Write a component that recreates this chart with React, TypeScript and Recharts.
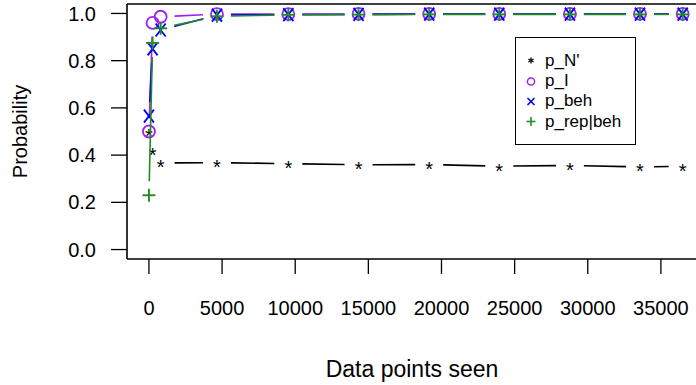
import { LineChart, Line, XAxis, YAxis, ReferenceLine, Legend } from "recharts";

// values
const steps = [0, 250, 800, 4650, 9530, 14330, 19160, 23950, 28780, 33570, 36490];
const pN = [0.5, 0.42, 0.367, 0.368, 0.364, 0.359, 0.36, 0.353, 0.356, 0.35, 0.353];
const pI = [0.5, 0.96, 0.986, 0.997, 0.997, 0.998, 0.998, 0.998, 0.998, 0.998, 0.998];
const pBeh = [0.565, 0.85, 0.93, 0.993, 0.995, 0.996, 0.997, 0.997, 0.997, 0.997, 0.997];
const pRep = [0.23, 0.875, 0.937, 0.988, 0.994, 0.995, 0.996, 0.996, 0.996, 0.996, 0.996];

const xTicks = [0, 5000, 10000, 15000, 20000, 25000, 30000, 35000];
const yTicks = [0, 0.2, 0.4, 0.6, 0.8, 1.0];

const FONT = "'Liberation Sans', Arial, Helvetica, sans-serif";
const GAP = 14;

const series = [
  { key: "pN", name: "p_N'", color: "#000000", kind: "star" },
  { key: "pI", name: "p_I", color: "#A020F0", kind: "circle" },
  { key: "pBeh", name: "p_beh", color: "#0000FF", kind: "cross" },
  { key: "pRep", name: "p_rep|beh", color: "#228B22", kind: "plus" },
];

const rows = steps.map((x, i) => ({ x, pN: pN[i], pI: pI[i], pBeh: pBeh[i], pRep: pRep[i] }));

function Marker({ kind, cx, cy, color }: { kind: string; cx: number; cy: number; color: string }) {
  if (kind === "star") {
    return (
      <text x={cx} y={cy + 11.5} textAnchor="middle" fontSize={20} fontFamily={FONT} fill={color}>
        *
      </text>
    );
  }
  if (kind === "circle") {
    return <circle cx={cx} cy={cy} r={6} fill="none" stroke={color} strokeWidth={1.8} />;
  }
  if (kind === "cross") {
    return (
      <g stroke={color} strokeWidth={1.8}>
        <line x1={cx - 5} y1={cy - 6.5} x2={cx + 5} y2={cy + 6.5} />
        <line x1={cx - 5} y1={cy + 6.5} x2={cx + 5} y2={cy - 6.5} />
      </g>
    );
  }
  return (
    <g stroke={color} strokeWidth={1.9}>
      <line x1={cx - 6.5} y1={cy} x2={cx + 6.5} y2={cy} />
      <line x1={cx} y1={cy - 6.5} x2={cx} y2={cy + 6.5} />
    </g>
  );
}

// small legend glyphs, like R's pch characters
function LegendGlyph({ kind, color }: { kind: string; color: string }) {
  let body;
  if (kind === "star") {
    body = (
      <g stroke={color} strokeWidth={1.3}>
        <line x1={7} y1={6.5} x2={7} y2={12.5} />
        <line x1={4.4} y1={8} x2={9.6} y2={11} />
        <line x1={4.4} y1={11} x2={9.6} y2={8} />
      </g>
    );
  } else if (kind === "circle") {
    body = <circle cx={7} cy={9.5} r={3.6} fill="none" stroke={color} strokeWidth={1.5} />;
  } else if (kind === "cross") {
    body = (
      <g stroke={color} strokeWidth={1.6}>
        <line x1={3.5} y1={6} x2={10.5} y2={13} />
        <line x1={3.5} y1={13} x2={10.5} y2={6} />
      </g>
    );
  } else {
    body = (
      <g stroke={color} strokeWidth={1.6}>
        <line x1={2.5} y1={9.5} x2={11.5} y2={9.5} />
        <line x1={7} y1={5} x2={7} y2={14} />
      </g>
    );
  }
  return (
    <svg width={14} height={19} style={{ display: "block", marginLeft: 8, marginRight: 7 }}>
      {body}
    </svg>
  );
}

// R type="b": points joined by segments that stop short of each point
const trail: Record<string, { x: number; y: number } | null> = {};

function gappedDot(key: string, color: string, kind: string) {
  return (props: any) => {
    const { cx, cy, index } = props;
    if (cx == null || cy == null) return <g key={`${key}-${index}`} />;
    if (index === 0) trail[key] = null;
    const prev = trail[key];
    trail[key] = { x: cx, y: cy };
    let seg = null;
    if (prev) {
      const dx = cx - prev.x;
      const dy = cy - prev.y;
      const d = Math.hypot(dx, dy);
      if (d > 2 * GAP) {
        const ux = dx / d;
        const uy = dy / d;
        seg = (
          <line
            x1={prev.x + ux * GAP}
            y1={prev.y + uy * GAP}
            x2={cx - ux * GAP}
            y2={cy - uy * GAP}
            stroke={color}
            strokeWidth={1.6}
          />
        );
      }
    }
    return (
      <g key={`${key}-${index}`}>
        {seg}
        <Marker kind={kind} cx={cx} cy={cy} color={color} />
      </g>
    );
  };
}

function LegendBox() {
  return (
    <div
      style={{
        border: "1.5px solid #000",
        width: 121,
        height: 108,
        boxSizing: "border-box",
        paddingTop: 12.8,
        fontSize: 17,
        fontFamily: FONT,
        background: "#fff",
      }}
    >
      {series.map((s) => (
        <div key={s.key} style={{ display: "flex", alignItems: "center", height: 20.3, lineHeight: "20.3px" }}>
          <LegendGlyph kind={s.kind} color={s.color} />
          <span style={{ color: "#000" }}>{s.name}</span>
        </div>
      ))}
    </div>
  );
}

export default function App() {
  return (
    <div style={{ position: "absolute", left: 0, top: 0, background: "#fff" }}>
      <LineChart
        width={696}
        height={385}
        data={rows}
        margin={{ top: 4, right: 0, bottom: 0, left: 0 }}
        style={{ fontFamily: FONT }}
      >
        <XAxis
          dataKey="x"
          type="number"
          domain={[-1500, 37400]}
          allowDataOverflow
          ticks={xTicks}
          interval={0}
          height={126}
          tickSize={15}
          tickMargin={27}
          axisLine={{ stroke: "#000", strokeWidth: 1.6 }}
          tickLine={{ stroke: "#000", strokeWidth: 1.3 }}
          tick={{ fill: "#000", fontSize: 20, fontFamily: FONT }}
          label={{
            value: "Data points seen",
            content: () => (
              <text x={412} y={377} textAnchor="middle" fontSize={23} fontFamily={FONT} fill="#000">
                Data points seen
              </text>
            ),
          }}
        />
        <YAxis
          type="number"
          domain={[-0.04, 1.04]}
          allowDataOverflow
          ticks={yTicks}
          interval={0}
          width={127}
          tickSize={16}
          tickMargin={15}
          tickFormatter={(v: number) => v.toFixed(1)}
          axisLine={{ stroke: "#000", strokeWidth: 1.6 }}
          tickLine={{ stroke: "#000", strokeWidth: 1.3 }}
          tick={{ fill: "#000", fontSize: 20, fontFamily: FONT }}
          label={{
            value: "Probability",
            content: () => (
              <text
                x={27}
                y={131.5}
                transform="rotate(-90 27 131.5)"
                textAnchor="middle"
                fontSize={20}
                fontFamily={FONT}
                fill="#000"
              >
                Probability
              </text>
            ),
          }}
        />
        <ReferenceLine y={1.04} stroke="#000" strokeWidth={1.6} />
        <Legend
          layout="horizontal"
          verticalAlign="middle"
          content={() => <LegendBox />}
          wrapperStyle={{ position: "absolute", left: 515, top: 37, width: 121, height: 108 }}
        />
        {series.map((s) => (
          <Line
            key={s.key}
            dataKey={s.key}
            name={s.name}
            stroke="none"
            isAnimationActive={false}
            activeDot={false}
            dot={gappedDot(s.key, s.color, s.kind)}
          />
        ))}
      </LineChart>
    </div>
  );
}
